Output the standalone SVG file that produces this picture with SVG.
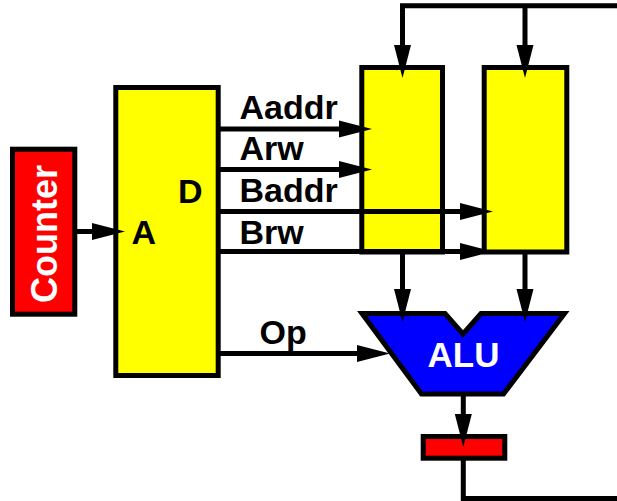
<svg xmlns="http://www.w3.org/2000/svg" width="617" height="501" viewBox="0 0 617 501">
<style>
.box{stroke:#000;stroke-width:5}
.y{fill:#ffff00}
.r{fill:#ff0000}
.t{font-family:"Liberation Sans",Arial,sans-serif;font-weight:bold;font-size:34px;fill:#000}
.w{fill:#fff}
.c{fill:none;stroke:#000;stroke-width:5;marker-end:url(#ah)}
.n{fill:none;stroke:#000;stroke-width:5}
</style>
<defs>
<marker id="ah" markerUnits="userSpaceOnUse" markerWidth="34" markerHeight="18" refX="13" refY="8.5" orient="auto" overflow="visible">
<path d="M0,0 L33,8.5 L0,17 z" fill="#000"/>
</marker>
</defs>
<g id="counter">
<rect class="box r" x="12.5" y="149.2" width="62.3" height="165"/>
<text class="t w" style="font-size:36px" text-anchor="middle" transform="translate(57,234) rotate(-90)">Counter</text>
</g>
<g id="rom">
<rect class="box y" x="115.8" y="87.5" width="102.4" height="288"/>
<text class="t" x="131.5" y="244">A</text>
<text class="t" x="178" y="202.5">D</text>
</g>
<g id="regA">
<rect class="box y" x="361.8" y="67.5" width="80.7" height="184.5"/>
</g>
<g id="regB">
<rect class="box y" x="484.2" y="67.5" width="82.6" height="184.5"/>
</g>
<g id="alu">
<polygon class="box" fill="#0000ff" stroke-linejoin="miter" points="362,313.5 445,313.5 463,334 481,313.5 564.5,313.5 503.5,394 421.5,394"/>
<text class="t w" x="463.5" y="366.5" text-anchor="middle" style="font-size:35px">ALU</text>
</g>
<g id="out">
<rect class="box r" x="423.2" y="436.5" width="81.6" height="21.7"/>
</g>
<g id="connectors">
<path class="c" d="M77,231.5 H105"/>
<path class="c" d="M218,129 H352"/>
<path class="c" d="M218,169.5 H352"/>
<path class="c" d="M218,211.5 H473"/>
<path class="c" d="M218,251.5 H473"/>
<path class="c" d="M218,353.5 H370"/>
<path class="c" d="M620,5.8 H402.5 V58"/>
<path class="c" d="M525,5.8 V58"/>
<path class="c" d="M402.5,254 V302"/>
<path class="c" d="M525,254 V302"/>
<path class="c" d="M463.3,396 V427"/>
<path class="n" d="M463.3,460 V498.5 H620"/>
</g>
<g id="labels">
<text class="t" x="239.5" y="119">Aaddr</text>
<text class="t" x="239.5" y="159.5">Arw</text>
<text class="t" x="239.5" y="201.7">Baddr</text>
<text class="t" x="239.5" y="243.5">Brw</text>
<text class="t" x="259.5" y="344">Op</text>
</g>
</svg>
